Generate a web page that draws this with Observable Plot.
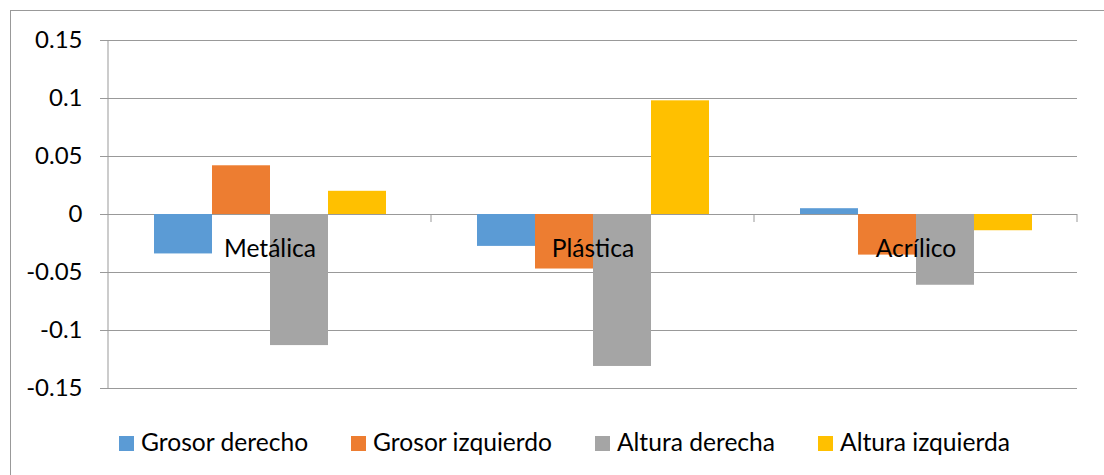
<!DOCTYPE html>
<html>
<head>
<meta charset="utf-8">
<script src="https://cdn.jsdelivr.net/npm/d3@7"></script>
<script src="https://cdn.jsdelivr.net/npm/@observablehq/plot@0.6"></script>
<style>
  html, body { margin: 0; padding: 0; background: #fff; }
  #chart { position: relative; width: 1104px; height: 475px; overflow: hidden; font-family: Lato, "Open Sans", sans-serif; }
  #border { position: absolute; left: 10px; top: 10px; width: 1200px; height: 600px; border: 1px solid #999; box-sizing: border-box; }
  #plot { position: absolute; left: 0; top: 0; }
  #legend { position: absolute; left: 119px; top: 427px; display: flex; gap: 43px; font-size: 24.6px; color: #000; }
  .item { display: flex; align-items: center; gap: 7px; line-height: 30px; }
  .sw { width: 15px; height: 15px; margin-top: 3px; }
</style>
</head>
<body>
<div id="chart">
  <div id="border"></div>
  <div id="plot"></div>
  <div id="legend"></div>
</div>
<script>
// Categories (sample type) and series (measured deviation)
const categories = ["Metálica", "Plástica", "Acrílico"];
const series = ["Grosor derecho", "Grosor izquierdo", "Altura derecha", "Altura izquierda"];
const colors = ["#5B9BD5", "#ED7D31", "#A5A5A5", "#FFC000"];

// Values per series, in category order
const grosorDerecho   = [-0.034, -0.0275,  0.005];
const grosorIzquierdo = [ 0.042, -0.047,  -0.035];
const alturaDerecha   = [-0.113, -0.131,  -0.061];
const alturaIzquierda = [ 0.020,  0.098,  -0.014];

// Y axis ticks and their labels
const yTicks = [-0.15, -0.1, -0.05, 0, 0.05, 0.1, 0.15];
const yTickLabels = ["-0.15", "-0.1", "-0.05", "0", "0.05", "0.1", "0.15"];

const seriesValues = [grosorDerecho, grosorIzquierdo, alturaDerecha, alturaIzquierda];
const rows = [];
categories.forEach((c, i) => {
  series.forEach((s, j) => rows.push({category: c, series: s, value: seriesValues[j][i]}));
});

const gridColor = "#999";

const plot = Plot.plot({
  width: 1104,
  height: 420,
  marginLeft: 108,
  marginRight: 27,
  marginTop: 40,
  marginBottom: 32,
  style: {fontFamily: "Lato, 'Open Sans', sans-serif", fontSize: "24px", background: "transparent", overflow: "visible"},
  fx: {domain: categories, padding: 0, axis: null},
  x: {domain: series, paddingInner: 0, paddingOuter: 0.75, axis: null},
  y: {domain: [-0.15, 0.15], axis: null},
  color: {domain: series, range: colors},
  marks: [
    Plot.gridY(yTicks, {stroke: gridColor, strokeOpacity: 1, strokeWidth: 1}),
    Plot.axisY(yTicks, {
      tickSize: 8, tickPadding: 18, stroke: gridColor, fill: "#000",
      tickFormat: (d) => yTickLabels[yTicks.indexOf(d)], label: null
    }),
    Plot.barY(rows, {fx: "category", x: "series", y: "value", fill: "series"}),
    Plot.text(categories, {fx: d => d, y: 0, text: d => d, dy: 35, fill: "#000", fontSize: 24.6, textAnchor: "middle"})
  ]
});

document.getElementById("plot").appendChild(plot);

// Vertical value-axis line and category boundary ticks on the zero line
const svg = d3.select(plot);
const fx = plot.scale("fx");
const y = plot.scale("y");
const y0 = y.apply(0);
const left = fx.apply(categories[0]);
svg.append("line")
  .attr("x1", left).attr("x2", left)
  .attr("y1", y.apply(0.15)).attr("y2", y.apply(-0.15))
  .attr("stroke", gridColor).attr("stroke-width", 1);
categories.forEach(c => {
  const xr = fx.apply(c) + fx.bandwidth;
  svg.append("line")
    .attr("x1", xr).attr("x2", xr)
    .attr("y1", y0).attr("y2", y0 + 8)
    .attr("stroke", gridColor).attr("stroke-width", 1);
});

// Legend
const legend = d3.select("#legend");
series.forEach((s, i) => {
  const item = legend.append("div").attr("class", "item");
  item.append("div").attr("class", "sw").style("background", colors[i]);
  item.append("span").text(s);
});
</script>
</body>
</html>
